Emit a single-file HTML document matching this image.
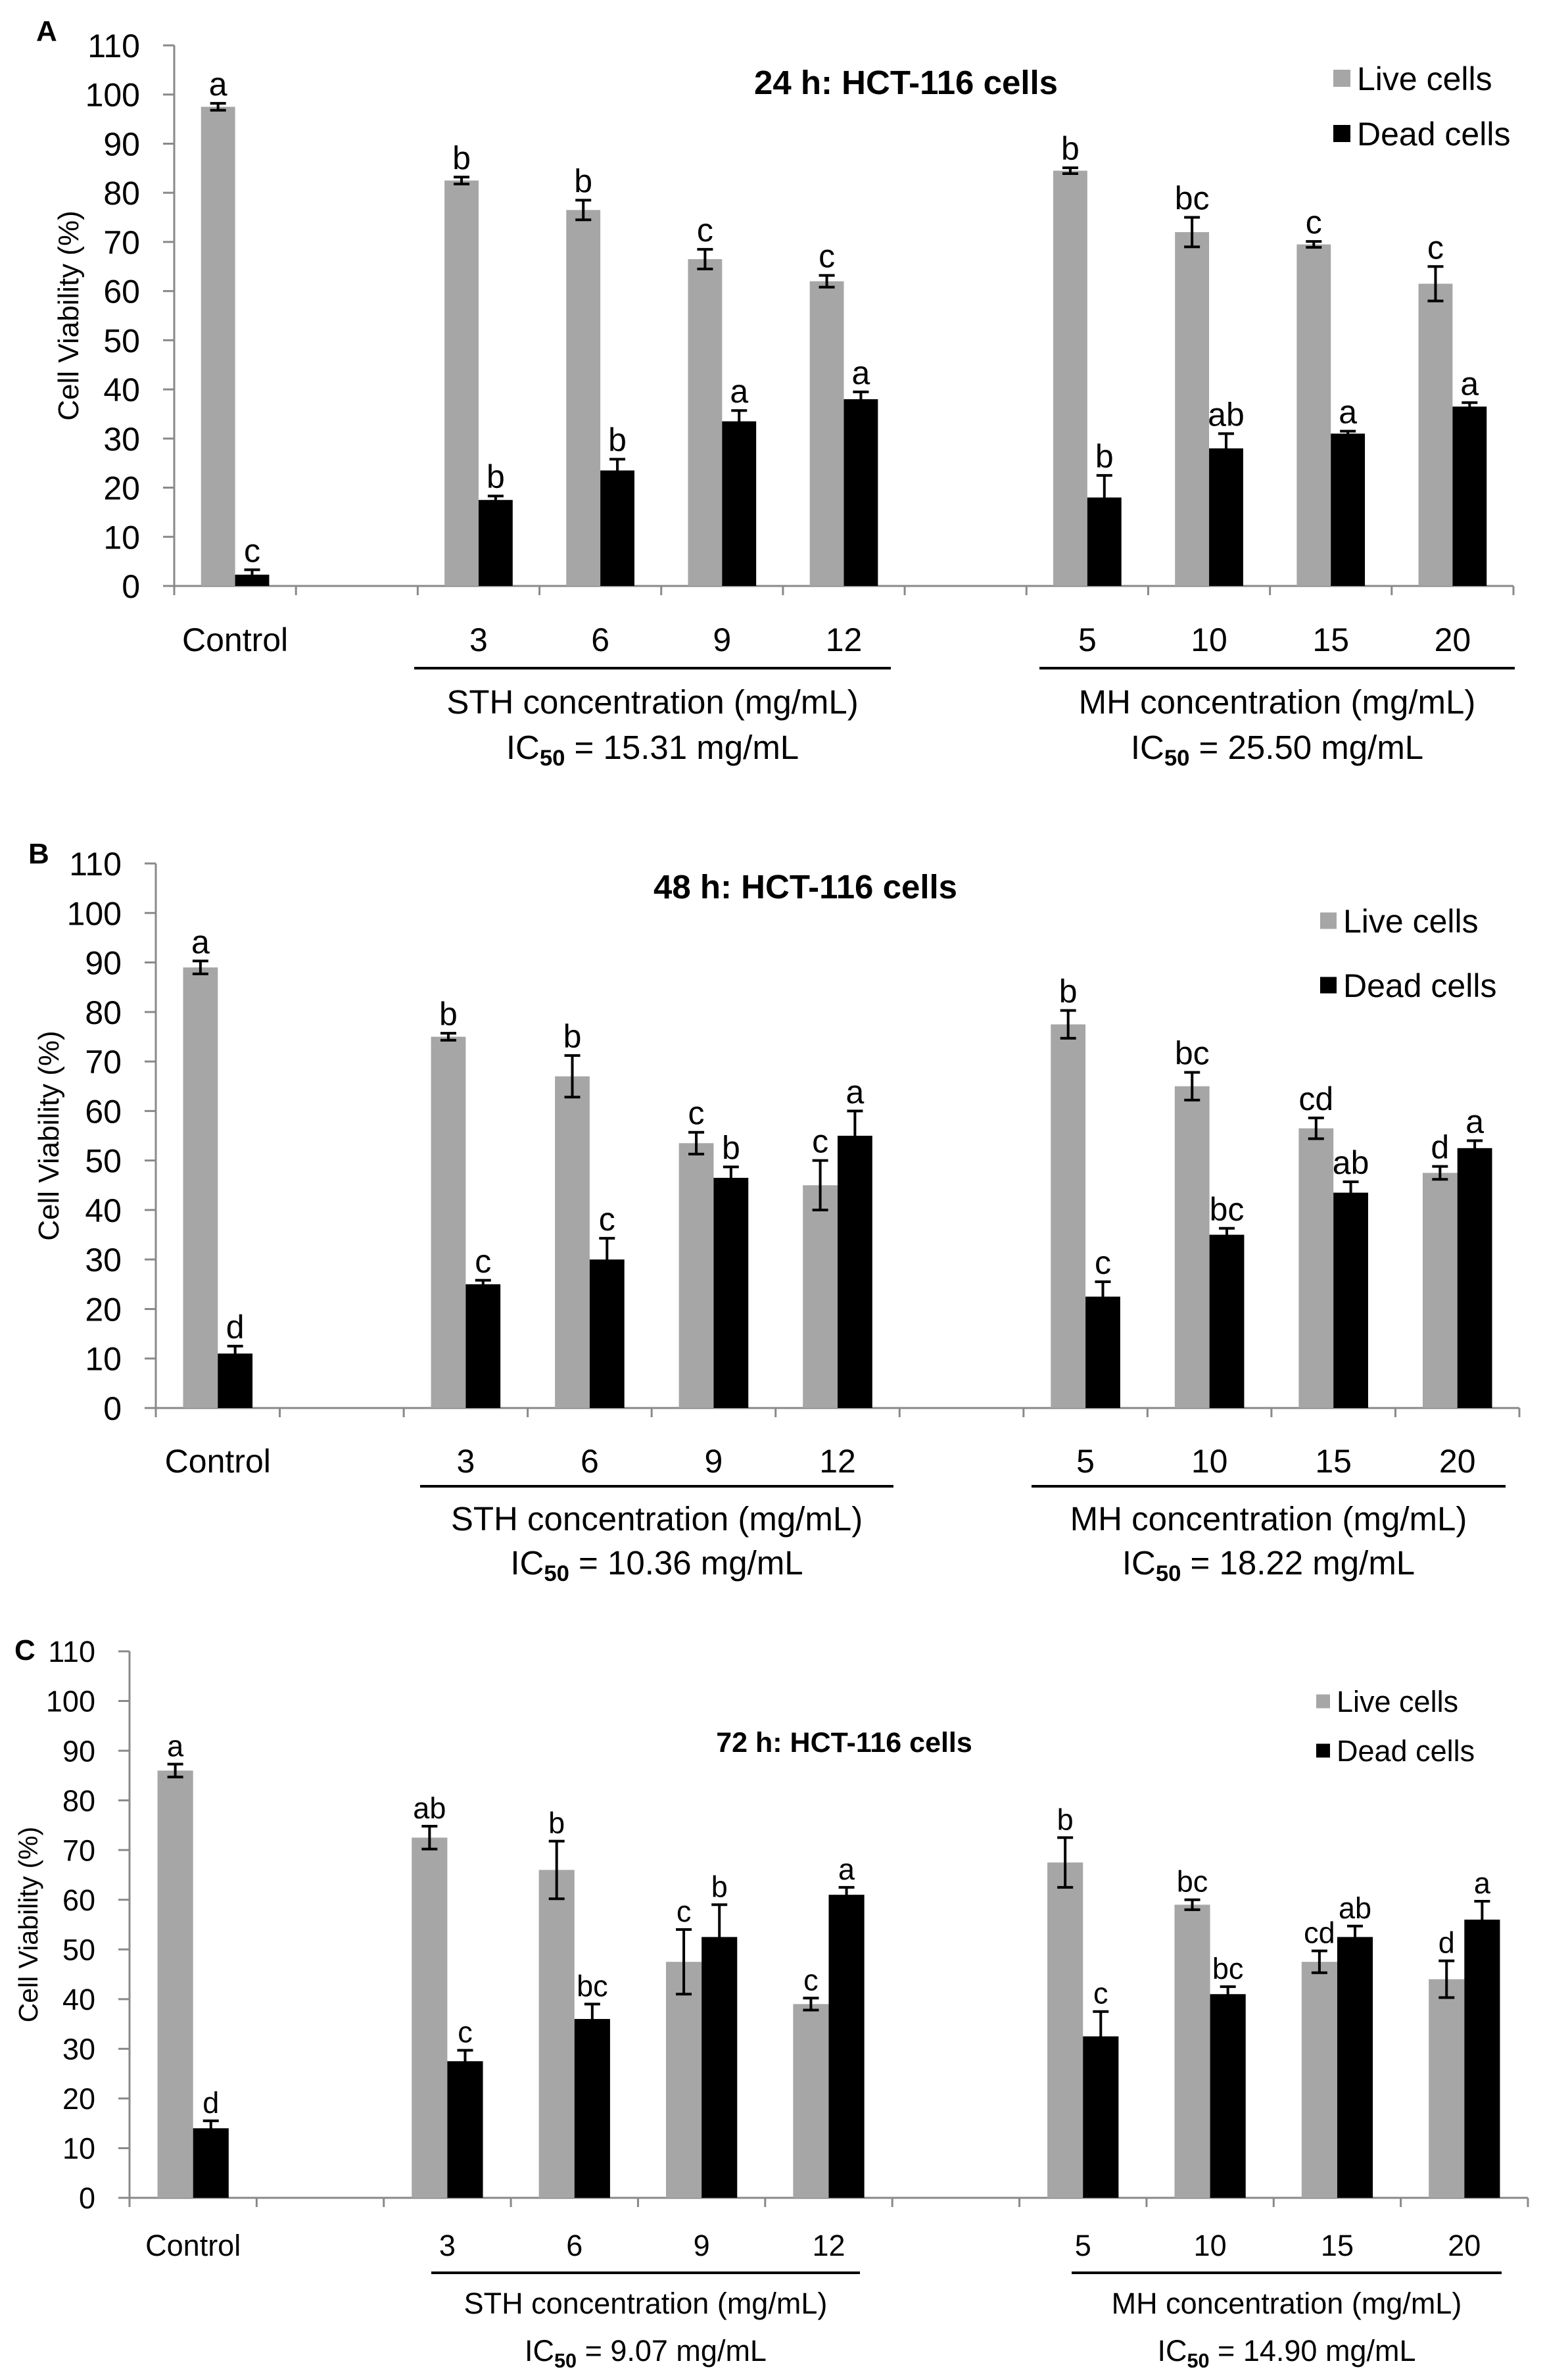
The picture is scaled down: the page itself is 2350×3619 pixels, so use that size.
<!DOCTYPE html>
<html><head><meta charset="utf-8"><style>
html,body{margin:0;padding:0;background:#fff;}
svg{display:block;font-family:"Liberation Sans",Arial,sans-serif;}
</style></head><body>
<svg id="fig" width="2350" height="3619" viewBox="0 0 2350 3619" xmlns="http://www.w3.org/2000/svg"></svg>
<script>
// ---- Data ----
const categories = ["Control","","3","6","9","12","","5","10","15","20"];
const slotIdx = [0,2,3,4,5,7,8,9,10];
const yTicks = [0,10,20,30,40,50,60,70,80,90,100,110];

const liveA = [97.5,82.5,76.5,66.5,62,84.5,72,69.5,61.5];
const liveErrA = [0.7,0.7,2,2,1.2,0.6,3,0.6,3.5];
const deadA = [2.3,17.5,23.5,33.5,38,18,28,31,36.5];
const deadErrA = [1,0.8,2.3,2.2,1.5,4.5,3,0.5,0.8];
const liveLetA = ["a","b","b","c","c","b","bc","c","c"];
const deadLetA = ["c","b","b","a","a","b","ab","a","a"];

const liveB = [89,75,67,53.5,45,77.5,65,56.5,47.5];
const liveErrB = [1.3,0.7,4.2,2.2,5,2.8,2.8,2.1,1.3];
const deadB = [11,25,30,46.5,55,22.5,35,43.5,52.5];
const deadErrB = [1.5,0.8,4.3,2.2,5,3,1.3,2.2,1.5];
const liveLetB = ["a","b","b","c","c","b","bc","cd","d"];
const deadLetB = ["d","c","c","b","a","c","bc","ab","a"];

const liveC = [86,72.5,66,47.5,39,67.5,59,47.5,44];
const liveErrC = [1.3,2.3,5.8,6.5,1.2,5,1,2.2,3.7];
const deadC = [14,27.5,36,52.5,61,32.5,41,52.5,56];
const deadErrC = [1.5,2.2,3,6.5,1.5,5,1.5,2.2,3.7];
const liveLetC = ["a","ab","b","c","c","b","bc","cd","d"];
const deadLetC = ["d","c","bc","b","a","c","bc","ab","a"];

const panels = [
 {id:"a",tag:"A",tagX:55,tagY:62,ax:265,xEnd:2302,y0:891,y110:69,fs:50,tfs:51,gfs:51,yfs:44,title:"24 h: HCT-116 cells",titleX:1378,titleY:143,
  legX:2028,legLiveY:119,legDeadY:203,sq:26,catY:990,lineY:1016,sth:[630,1355],mh:[1581,2304],txtY:1085,icY:1154,
  ic1:"15.31",ic2:"25.50",yTitleX:103,live:liveA,liveErr:liveErrA,dead:deadA,deadErr:deadErrA,lL:liveLetA,dL:deadLetA},
 {id:"b",tag:"B",tagX:43,tagY:1313,ax:237,xEnd:2311,y0:2141,y110:1313,fs:50,tfs:51,gfs:51,yfs:44,title:"48 h: HCT-116 cells",titleX:1225,titleY:1366,
  legX:2008,legLiveY:1400,legDeadY:1498,sq:25,catY:2239,lineY:2260,sth:[639,1359],mh:[1569,2290],txtY:2327,icY:2394,
  ic1:"10.36",ic2:"18.22",yTitleX:73,live:liveB,liveErr:liveErrB,dead:deadB,deadErr:deadErrB,lL:liveLetB,dL:deadLetB},
 {id:"c",tag:"C",tagX:22,tagY:2524,ax:197,xEnd:2324,y0:3342,y110:2511,fs:45,tfs:43,gfs:45,yfs:41,title:"72 h: HCT-116 cells",titleX:1284,titleY:2664,
  legX:2002,legLiveY:2587,legDeadY:2662,sq:21,catY:3430,lineY:3456,sth:[656,1308],mh:[1630,2284],txtY:3518,icY:3590,
  ic1:"9.07",ic2:"14.90",yTitleX:42,live:liveC,liveErr:liveErrC,dead:deadC,deadErr:deadErrC,lL:liveLetC,dL:deadLetC}
];

const NS="http://www.w3.org/2000/svg";
const svg=document.getElementById('fig');
function mk(tag,attrs,parent,text){
  const e=document.createElementNS(NS,tag);
  for(const k in attrs) e.setAttribute(k,attrs[k]);
  if(text!==undefined) e.textContent=text;
  (parent||svg).appendChild(e);
  return e;
}

panels.forEach(p=>{
  const g=mk('g',{});
  
  
  const yScale=v=>p.y0+(p.y110-p.y0)*v/110;
  const slot=(p.xEnd-p.ax)/categories.length;
  const xCenter=i=>p.ax+slot*(i+0.5);
  const bw=slot*0.28;

  const tag=mk('text',{x:p.tagX,y:p.tagY,'font-size':44,'font-weight':'bold'},g,p.tag);
  
  

  const yax=mk('line',{x1:p.ax,y1:p.y110,x2:p.ax,y2:p.y0,stroke:'#898989','stroke-width':3},g);
  
  
  yTicks.forEach(t=>{
    const y=yScale(t);
    mk('line',{x1:p.ax-17,y1:y,x2:p.ax,y2:y,stroke:'#898989','stroke-width':3},g);
    const tl=mk('text',{x:p.ax-52,y:y+p.fs*0.36,'font-size':p.fs,'text-anchor':'end'},g,String(t));
    
    
  });
  const yt=mk('text',{x:0,y:0,'font-size':p.yfs,'text-anchor':'middle',transform:`translate(${p.yTitleX+p.yfs*0.36},${(p.y0+p.y110)/2}) rotate(-90)`},g,'Cell  Viability (%)');
  
  

  const xax=mk('line',{x1:p.ax-17,y1:p.y0,x2:p.xEnd,y2:p.y0,stroke:'#898989','stroke-width':3},g);
  
  
  for(let i=0;i<=categories.length;i++){
    const x=p.ax+slot*i;
    mk('line',{x1:x,y1:p.y0,x2:x,y2:p.y0+14,stroke:'#898989','stroke-width':3},g);
  }
  categories.forEach((c,i)=>{
    if(!c) return;
    const t=mk('text',{x:xCenter(i),y:p.catY,'font-size':p.fs,'text-anchor':'middle'},g,c);
    
    
  });

  slotIdx.forEach((si,k)=>{
    const cx=xCenter(si);
    [[p.live,p.liveErr,p.lL,'#a6a6a6',cx-bw,'live'],[p.dead,p.deadErr,p.dL,'#000',cx,'dead']].forEach(([vals,errs,lets,col,x,nm])=>{
      const v=vals[k], e=errs[k];
      const r=mk('rect',{x:x,y:yScale(v),width:bw,height:p.y0-yScale(v),fill:col},g);
      
      
      const mx=x+bw/2, yt2=yScale(v+e), yb=yScale(v-e);
      const eb=mk('path',{d:`M${mx},${yt2}V${yb}M${mx-12},${yt2}H${mx+12}M${mx-12},${yb}H${mx+12}`,stroke:'#000','stroke-width':4,fill:'none'},g);
      
      
      const lt=mk('text',{x:mx,y:yt2-12,'font-size':p.fs,'text-anchor':'middle'},g,lets[k]);
      
      
    });
  });

  const tt=mk('text',{x:p.titleX,y:p.titleY,'font-size':p.tfs,'font-weight':'bold','text-anchor':'middle'},g,p.title);
  
  

  [['Live cells','#a6a6a6',p.legLiveY],['Dead cells','#000',p.legDeadY]].forEach(([lab,col,y])=>{
    const sq=mk('rect',{x:p.legX,y:y-p.sq/2,width:p.sq,height:p.sq,fill:col},g);
    
    
    const lt=mk('text',{x:p.legX+p.sq+10,y:y+p.fs*0.36,'font-size':p.fs},g,lab);
    
    
  });

  [[p.sth,'STH',p.ic1],[p.mh,'MH',p.ic2]].forEach(([rng,nm,ic])=>{
    const ln=mk('line',{x1:rng[0],y1:p.lineY,x2:rng[1],y2:p.lineY,stroke:'#000','stroke-width':4},g);
    
    
    const c=(rng[0]+rng[1])/2;
    const t=mk('text',{x:c,y:p.txtY,'font-size':p.gfs,'text-anchor':'middle'},g,nm+' concentration (mg/mL)');
    
    
    const t2=mk('text',{x:c,y:p.icY,'font-size':p.gfs,'text-anchor':'middle'},g);
    
    
    mk('tspan',{},t2,'IC');
    mk('tspan',{'font-size':p.gfs*0.68,'font-weight':'bold',dy:10},t2,'50');
    mk('tspan',{dy:-10},t2,' = '+ic+' mg/mL');
  });
});
</script>
</body></html>
